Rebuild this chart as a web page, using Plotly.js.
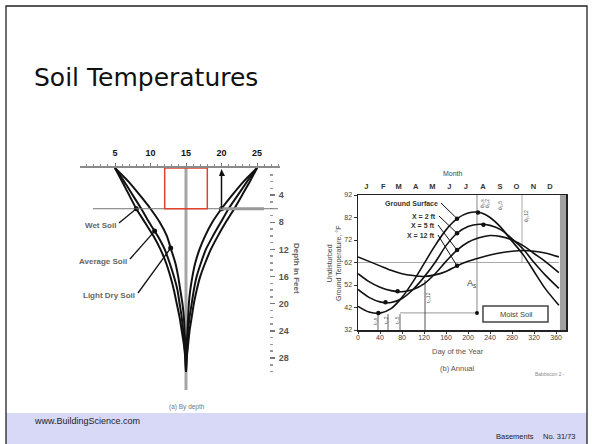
<!DOCTYPE html>
<html><head><meta charset="utf-8">
<script src="https://cdn.plot.ly/plotly-3.0.1.min.js"></script>
<style>html,body{margin:0;padding:0;background:#fff;}#chart{width:592px;height:444px;}</style>
</head><body><div id="chart"></div>
<script>
// ---------- (a) By depth : temperature (°C) vs depth (ft) ----------
const depthFt        = [0, 2, 4, 6, 8, 10, 12, 14, 16, 18, 20, 22, 24, 26, 28, 30];
const wetSoilWinter  = [5, 6.0, 7.0, 8.0, 9.2, 10.4, 11.4, 12.2, 12.8, 13.3, 13.7, 14.1, 14.4, 14.7, 14.9, 15];
const avgSoilWinter  = [5, 6.3, 7.5, 8.7, 9.8, 11.0, 12.0, 12.7, 13.3, 13.8, 14.1, 14.4, 14.6, 14.8, 14.9, 15];
const drySoilWinter  = [5, 6.9, 8.5, 10.0, 11.3, 12.3, 12.9, 13.5, 13.9, 14.2, 14.5, 14.7, 14.8, 14.9, 15, 15];
const wetSoilSummer  = [25, 24.0, 22.9, 21.8, 20.6, 19.5, 18.5, 17.7, 17.0, 16.5, 16.1, 15.8, 15.5, 15.3, 15.1, 15];
const avgSoilSummer  = [25, 23.6, 22.3, 21.0, 19.9, 18.8, 17.8, 17.1, 16.5, 16.1, 15.8, 15.5, 15.3, 15.2, 15.1, 15];
const drySoilSummer  = [25, 23.1, 21.5, 20.0, 18.7, 17.7, 16.9, 16.3, 15.9, 15.6, 15.4, 15.3, 15.2, 15.1, 15, 15];
const tempTicksC     = [5, 10, 15, 20, 25];
const depthTicks     = [4, 8, 12, 16, 20, 24, 28];
const soilLabels     = ['Wet Soil', 'Average Soil', 'Light Dry Soil'];

// ---------- (b) Annual : ground temperature (°F) vs day of year ----------
const dayOfYear      = [0, 20, 40, 60, 80, 100, 120, 140, 160, 180, 200, 220, 240, 260, 280, 300, 320, 340, 365];
const groundSurface  = [42.5, 40.0, 39.5, 41.5, 46.5, 53.5, 61.5, 69.5, 76.5, 81.5, 84.0, 84.3, 82.0, 77.5, 71.5, 65.5, 58.0, 50.5, 43.0];
const depth2ft       = [50.0, 46.5, 44.5, 44.2, 46.0, 50.0, 55.5, 62.0, 69.5, 75.0, 78.0, 79.0, 78.5, 76.5, 72.5, 68.0, 62.0, 56.5, 50.5];
const depth5ft       = [57.0, 53.5, 51.0, 49.5, 49.0, 50.0, 52.5, 57.0, 62.5, 67.5, 71.0, 73.0, 74.0, 73.5, 72.0, 69.5, 66.0, 62.5, 57.5];
const depth12ft      = [64.5, 62.5, 60.5, 58.5, 57.0, 56.2, 55.8, 56.5, 58.0, 60.5, 62.5, 64.0, 65.3, 66.3, 67.0, 67.3, 67.0, 66.2, 64.5];
const seriesNames    = ['Ground Surface', 'X = 2 ft', 'X = 5 ft', 'X = 12 ft'];
const dayTicks       = [0, 40, 80, 120, 160, 200, 240, 280, 320, 360];
const tempTicksF     = [32, 42, 52, 62, 72, 82, 92];
const monthLetters   = ['J','F','M','A','M','J','J','A','S','O','N','D'];
const monthMidDays   = [15, 46, 74, 105, 135, 166, 196, 227, 258, 288, 319, 349];
const meanTempF      = 62;
const minTempF       = 39.6;

// ---------- helpers ----------
const W = 592, H = 444;
const px = v => v / W;
const py = v => 1 - v / H;
function interp(xs, ys, x) {
  for (let i = 0; i < xs.length - 1; i++) {
    if (x >= xs[i] && x <= xs[i + 1]) {
      const t = (x - xs[i]) / (xs[i + 1] - xs[i]);
      return ys[i] + t * (ys[i + 1] - ys[i]);
    }
  }
  return ys[ys.length - 1];
}
function interpDepth(temps, d) { return interp(depthFt, temps, d); }

const ink = '#111';
const lineA = {color: ink, width: 2, shape: 'spline', smoothing: 0.6};
const lineB = {color: ink, width: 1.6, shape: 'spline', smoothing: 0.8};

const traces = [];
[wetSoilWinter, avgSoilWinter, drySoilWinter, wetSoilSummer, avgSoilSummer, drySoilSummer].forEach(s => {
  traces.push({x: s, y: depthFt, xaxis: 'x', yaxis: 'y', mode: 'lines', line: lineA, hoverinfo: 'skip'});
});
const dotDepths = [6, 9.3, 11.8];
const winterSeries = [wetSoilWinter, avgSoilWinter, drySoilWinter];
const dotX = winterSeries.map((s, i) => interpDepth(s, dotDepths[i]));
dotX.push(interpDepth(drySoilSummer, 6));
const dotY = dotDepths.concat([6]);
traces.push({x: dotX, y: dotY, xaxis: 'x', yaxis: 'y', mode: 'markers', marker: {color: ink, size: 5}, hoverinfo: 'skip'});

const annual = [groundSurface, depth2ft, depth5ft, depth12ft];
annual.forEach(s => {
  traces.push({x: dayOfYear, y: s, xaxis: 'x2', yaxis: 'y2', mode: 'lines', line: lineB, hoverinfo: 'skip'});
});
const dotDaysB = [[37, 180, 218], [50, 180, 228], [72, 180], [180]];
const bx = [], by = [];
annual.forEach((s, i) => dotDaysB[i].forEach(d => { bx.push(d); by.push(interp(dayOfYear, s, d)); }));
traces.push({x: bx, y: by, xaxis: 'x2', yaxis: 'y2', mode: 'markers', marker: {color: ink, size: 4.5}, hoverinfo: 'skip'});
traces.push({x: [monthMidDays[0]], y: [null], xaxis: 'x3', yaxis: 'y2', mode: 'markers', showlegend: false, hoverinfo: 'skip'});

// ---------- axes geometry ----------
const cPx = 7.1, dPx = 6.786;
const xA = [5 - (115 - 80) / cPx, 25 + (280 - 257) / cPx];
const yA = [(395 - 168) / dPx, 0];
const tA = v => 5 + (v - 115) / cPx;     // px -> temp (a)
const dA = v => (v - 168) / dPx;         // px -> depth (a)
const dB = v => (v - 358) / 0.5503;      // px -> day (b)
const tB = v => 32 + (330 - v) / 2.25;   // px -> °F (b)

const minorDepth = [];
for (let d = 1; d <= 30; d++) if (d % 4 !== 0) minorDepth.push(d);

const tickFontB = {family: 'Liberation Sans', size: 7, color: '#444'};

const layout = {
  width: W, height: H,
  margin: {l: 0, r: 0, t: 0, b: 0},
  paper_bgcolor: '#fff', plot_bgcolor: 'rgba(0,0,0,0)',
  showlegend: false,
  xaxis: {
    domain: [px(80), px(280)], range: xA, anchor: 'y', side: 'top',
    tickmode: 'array', tickvals: tempTicksC, ticktext: tempTicksC.map(String),
    tickfont: {family: 'Liberation Sans', size: 9, color: '#111', weight: 'bold'},
    ticks: 'outside', ticklen: 3, tickcolor: '#777', ticklabelstandoff: 3,
    minor: {dtick: 1, ticks: 'outside', ticklen: 2, tickcolor: '#888'},
    showline: true, linecolor: '#8a8a8a', linewidth: 2.5,
    showgrid: false, zeroline: false, fixedrange: true
  },
  yaxis: {
    domain: [py(395), py(168)], range: yA, anchor: 'free', position: px(269), side: 'right',
    tickmode: 'array', tickvals: depthTicks, ticktext: depthTicks.map(String),
    tickfont: {family: 'Liberation Sans', size: 9, color: '#555', weight: 'bold'},
    ticks: 'outside', ticklen: 5, tickcolor: '#777', tickwidth: 1.5, ticklabelstandoff: 2,
    minor: {tickmode: 'array', tickvals: minorDepth, ticks: 'outside', ticklen: 3, tickcolor: '#999', tickwidth: 1.5},
    showline: false, showgrid: false, zeroline: false, fixedrange: true
  },
  xaxis2: {
    domain: [px(358), px(566)], range: [0, 378], anchor: 'y2',
    tickmode: 'array', tickvals: dayTicks, ticktext: dayTicks.map(String),
    tickfont: tickFontB, ticks: 'outside', ticklen: 2, tickcolor: '#333', ticklabelstandoff: -2,
    showline: true, mirror: true, linecolor: '#222', linewidth: 1.5,
    showgrid: false, zeroline: false, fixedrange: true
  },
  yaxis2: {
    domain: [py(330), py(195)], range: [32, 92], anchor: 'x2',
    tickmode: 'array', tickvals: tempTicksF, ticktext: tempTicksF.map(String),
    tickfont: tickFontB, ticks: 'outside', ticklen: 3, tickcolor: '#333', ticklabelstandoff: 0,
    showline: true, mirror: true, linecolor: '#222', linewidth: 1.5,
    showgrid: false, zeroline: false, fixedrange: true
  },
  xaxis3: {
    overlaying: 'x2', anchor: 'y2', side: 'top', range: [0, 378],
    tickmode: 'array', tickvals: monthMidDays, ticktext: monthLetters,
    tickfont: {family: 'Liberation Sans', size: 7.5, color: '#333', weight: 'bold'},
    ticks: '', ticklabelstandoff: 4, showline: false, showgrid: false, zeroline: false, fixedrange: true
  },
  shapes: [],
  annotations: []
};

const S = layout.shapes, A = layout.annotations;
function note(xp, yp, text, font, extra) {
  A.push(Object.assign({x: px(xp), y: py(yp), xref: 'paper', yref: 'paper', xanchor: 'center', yanchor: 'middle',
                        showarrow: false, text: text, font: font}, extra || {}));
}
// slide frame + footer band
S.push({type: 'rect', xref: 'paper', yref: 'paper', x0: px(6), x1: px(587), y0: py(413), y1: py(447), fillcolor: '#d8d8f7', line: {width: 0}, layer: 'below'});
S.push({type: 'rect', xref: 'paper', yref: 'paper', x0: px(6), x1: px(587), y0: py(447), y1: py(6), fillcolor: 'rgba(0,0,0,0)', line: {color: '#222', width: 1.3}});

// (a) decorations
S.push({type: 'line', xref: 'x', yref: 'y', x0: 15, x1: 15, y0: 0, y1: dA(390), line: {color: '#a5a5a5', width: 3}, layer: 'below'});
S.push({type: 'line', xref: 'x', yref: 'y', x0: tA(93), x1: tA(278), y0: 6, y1: 6, line: {color: '#777', width: 1}});
S.push({type: 'line', xref: 'x', yref: 'y', x0: tA(220), x1: tA(264), y0: 6, y1: 6, line: {color: '#999', width: 3}});
S.push({type: 'rect', xref: 'x', yref: 'y', x0: 12, x1: 18, y0: 0, y1: 6, line: {color: '#e2432d', width: 1.5}});
// upward arrow at 20 °C
S.push({type: 'line', xref: 'x', yref: 'y', x0: 20, x1: 20, y0: 6, y1: 0.9, line: {color: ink, width: 1.5}});
S.push({type: 'path', xref: 'x', yref: 'y', path: `M ${tA(219)} ${dA(176)} L ${tA(225)} ${dA(176)} L 20 ${dA(169)} Z`, fillcolor: ink, line: {width: 0}});
// soil labels with leaders
const labelEnds = [[119, 223], [130, 259], [138, 293]];
const labFontA = {family: 'Liberation Sans', size: 8, color: '#666', weight: 'bold'};
soilLabels.forEach((t, i) => {
  note(labelEnds[i][0] - 1, labelEnds[i][1] + 2, t, labFontA, {xanchor: 'right'});
  S.push({type: 'line', xref: 'x', yref: 'y', x0: tA(labelEnds[i][0]), y0: dA(labelEnds[i][1]), x1: dotX[i], y1: dotY[i], line: {color: ink, width: 1.3}});
});
note(297, 268, 'Depth in Feet', {family: 'Liberation Sans', size: 8, color: '#666', weight: 'bold'}, {textangle: 90});
note(187, 407, '(a) By depth', {family: 'Liberation Sans', size: 6.5, color: '#777'});

// (b) decorations
S.push({type: 'rect', xref: 'x2', yref: 'y2', x0: 367, x1: 378, y0: 32, y1: 92, fillcolor: '#a2a2a2', line: {width: 0}});
S.push({type: 'line', xref: 'x2', yref: 'y2', x0: 0, x1: 365, y0: meanTempF, y1: meanTempF, line: {color: '#aaa', width: 1}, layer: 'below'});
S.push({type: 'line', xref: 'x2', yref: 'y2', x0: dB(400), x1: dB(477), y0: minTempF, y1: minTempF, line: {color: '#999', width: 1}, layer: 'below'});
S.push({type: 'line', xref: 'x2', yref: 'y2', x0: dB(477), x1: dB(477), y0: minTempF, y1: 92, line: {color: '#888', width: 1}, layer: 'below'});
S.push({type: 'line', xref: 'x2', yref: 'y2', x0: dB(522), x1: dB(522), y0: meanTempF, y1: 92, line: {color: '#aaa', width: 1}, layer: 'below'});
S.push({type: 'line', xref: 'x2', yref: 'y2', x0: dB(425), x1: dB(425), y0: 32, y1: tB(280), line: {color: '#555', width: 1}, layer: 'below'});
[378, 388, 400].forEach(v => S.push({type: 'line', xref: 'x2', yref: 'y2', x0: dB(v), x1: dB(v), y0: 32, y1: tB(314), line: {color: '#666', width: 1}, layer: 'below'}));
S.push({type: 'circle', xref: 'x2', yref: 'y2', xsizemode: 'pixel', ysizemode: 'pixel', xanchor: dB(477), yanchor: minTempF, x0: -2, x1: 2, y0: -2, y1: 2, fillcolor: ink, line: {width: 0}});
S.push({type: 'rect', xref: 'x2', yref: 'y2', x0: dB(483), x1: dB(548), y0: tB(322), y1: tB(306), fillcolor: '#fff', line: {color: '#444', width: 1.5}});
note(516, 314, 'Moist Soil', {family: 'Liberation Sans', size: 7.5, color: '#444'});
note(471, 283, 'A<sub>s</sub>', {family: 'Liberation Sans', size: 9, color: '#444'});
// small rotated tags
const tagFont = {family: 'Liberation Sans', size: 5, color: '#555'};
[[375, 321, 't₀,s'], [386, 320, 't₀,2'], [397, 320, 't₀,5'], [428, 298, 't₀,12'],
 [482, 204, 'θ₀,s'], [487, 204, 'θ₀,2'], [500, 206, 'θ₀,5'], [526, 216, 'θ₀,12']].forEach(t => {
  note(t[0], t[1], t[2], tagFont, {textangle: -90});
});
// series labels with leaders
const seriesLabelPos = [[441, 203], [439, 216], [438, 225], [438, 235]];
const seriesDot = annual.map(s => interp(dayOfYear, s, 180));
seriesNames.forEach((n, i) => {
  const [lx, ly] = seriesLabelPos[i];
  note(lx - 1, ly, n, {family: 'Liberation Sans', size: 7, color: '#333', weight: 'bold'}, {xanchor: 'right'});
  S.push({type: 'line', xref: 'x2', yref: 'y2', x0: dB(lx), y0: tB(ly), x1: 180, y1: seriesDot[i], line: {color: ink, width: 1}});
});
note(453, 173, 'Month', {family: 'Liberation Sans', size: 7, color: '#444'});
note(334, 264, 'Undisturbed<br>Ground Temperature, °F', {family: 'Liberation Sans', size: 7, color: '#444'}, {textangle: -90});
note(458, 351, 'Day of the Year', {family: 'Liberation Sans', size: 7.5, color: '#555'});
note(457, 368, '(b) Annual', {family: 'Liberation Sans', size: 7.5, color: '#555'});
note(567, 374, 'Babbscon 2 -', {family: 'Liberation Sans', size: 5, color: '#888'}, {xanchor: 'right'});

// slide title + footer
note(32, 78, 'Soil Temperatures', {family: 'DejaVu Sans', size: 25, color: '#111'}, {xanchor: 'left'});
note(32, 421, 'www.BuildingScience.com', {family: 'Liberation Sans', size: 9, color: '#222'}, {xanchor: 'left'});
note(494, 436, 'Basements', {family: 'Liberation Sans', size: 7.5, color: '#222'}, {xanchor: 'left'});
note(541, 436, 'No. 31/73', {family: 'Liberation Sans', size: 7.5, color: '#222'}, {xanchor: 'left'});

Plotly.newPlot('chart', traces, layout, {staticPlot: true, displayModeBar: false});
</script></body></html>
